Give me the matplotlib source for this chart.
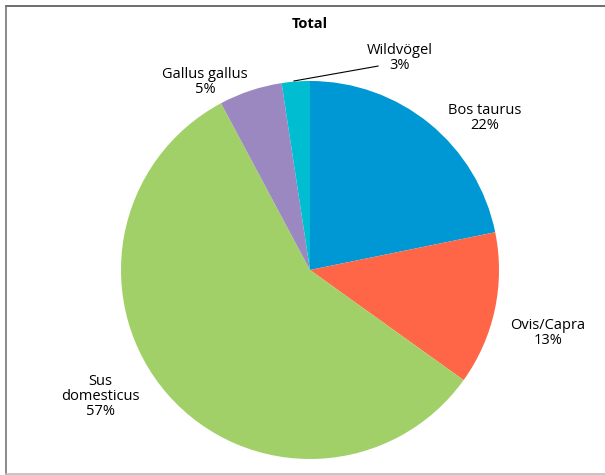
import matplotlib
matplotlib.use("Agg")
import matplotlib.pyplot as plt
from matplotlib.lines import Line2D

# data (slice sizes)
names = ["Bos taurus", "Ovis/Capra", "Sus\ndomesticus", "Gallus gallus", "Wildvögel"]
shares = [21.8, 13.1, 57.3, 5.4, 2.4]
share_labels = ["22%", "13%", "57%", "5%", "3%"]
colors = ["#0098D4", "#FF6647", "#A2D068", "#9B88C1", "#00BDD1"]

plt.rcParams["font.family"] = ["Open Sans", "DejaVu Sans"]

fig = plt.figure(figsize=(6.05, 4.75), dpi=100)
ax = fig.add_axes([0.2, 0.0337, 0.6248, 0.7958])

ax.pie(shares, colors=colors, startangle=90, counterclock=False,
       radius=1.0, wedgeprops=dict(linewidth=0))
ax.set_xlim(-1, 1)
ax.set_ylim(-1, 1)
ax.set_aspect("equal")
ax.axis("off")

# label positions (data coords, pie radius = 1)
label_pos = [(0.926, 0.804), (1.259, -0.333), (-1.111, -0.672), (-0.556, 0.995), (0.476, 1.122)]
for name, lab, (x, y) in zip(names, share_labels, label_pos):
    ax.text(x, y, f"{name}\n{lab}", ha="center", va="center", fontsize=10.5,
            linespacing=1.0, clip_on=False)

# leader line for the small slice
ax.add_line(Line2D([-0.085, 0.36], [1.0, 1.079], color="black", lw=0.8, clip_on=False))

fig.text(0.512, 0.949, "Total", ha="center", va="center", fontsize=10.5, fontweight="bold")

# frame around the chart area
fig.add_artist(Line2D([0.0107, 1.0], [0.988, 0.988], color="#555555", lw=1.2))
fig.add_artist(Line2D([0.0107, 0.0107], [0.003, 0.988], color="#777777", lw=1.2))
fig.add_artist(Line2D([0.0107, 1.0], [0.003, 0.003], color="#bbbbbb", lw=1.2))

fig.savefig("out.png", dpi=100)
